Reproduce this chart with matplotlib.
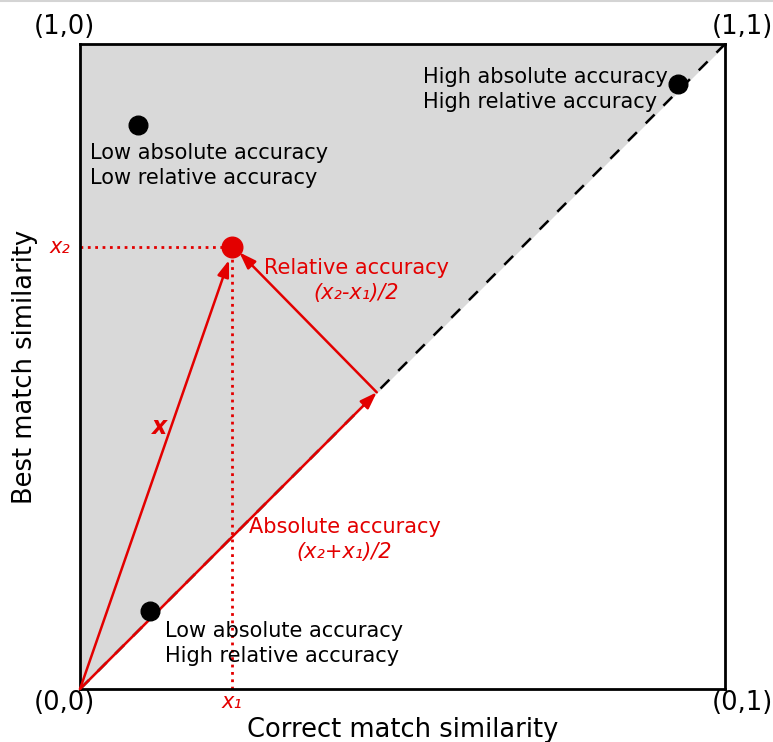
import matplotlib.pyplot as plt
from matplotlib.lines import Line2D
import numpy as np

# example points (correct match similarity, best match similarity)
pt_x = [0.09, 0.927, 0.109]
pt_y = [0.874, 0.938, 0.121]
pt_labels = ['Low absolute accuracy\nLow relative accuracy',
             'High absolute accuracy\nHigh relative accuracy',
             'Low absolute accuracy\nHigh relative accuracy']
label_pos = [(0.016, 0.812), (0.532, 0.929), (0.132, 0.071)]

x1, x2 = 0.235, 0.685
corner_labels = ['(0,0)', '(1,0)', '(1,1)', '(0,1)']
corner_xy = [(-0.025, -0.022), (-0.025, 1.027), (1.027, 1.027), (1.027, -0.022)]

red = '#e30000'
fig = plt.figure(figsize=(7.73, 7.42), dpi=100)
ax = fig.add_axes([0.1035, 0.0714, 0.8345, 0.8693])
ax.set_xlim(0, 1)
ax.set_ylim(0, 1)

# thin rule along the top edge of the image
fig.add_artist(Line2D([0, 1], [0.999, 0.999], color='#d4d4d4', lw=1.5))

ax.fill([0, 0, 1], [0, 1, 1], color='#d9d9d9', zorder=0)
ax.plot([0, 1], [0, 1], ls=(0, (5, 5)), color='black', lw=1.8, zorder=1)

mid = (x1 + x2) / 2
ax.plot([0, x1], [x2, x2], ls=':', color=red, lw=2, zorder=2)
ax.plot([x1, x1], [0, x2], ls=':', color=red, lw=2, zorder=2)

aprops = dict(arrowstyle='-|>,head_length=1.0,head_width=0.35', color=red, lw=1.8,
              shrinkA=0, shrinkB=0)
ax.annotate('', xy=(x1 - 0.004, x2 - 0.02), xytext=(0, 0), arrowprops=aprops, zorder=3)
ax.annotate('', xy=(mid, mid), xytext=(0, 0), arrowprops=aprops, zorder=3)
ax.annotate('', xy=(x1 + 0.012, x2 - 0.008), xytext=(mid, mid), arrowprops=aprops, zorder=3)

ax.scatter([x1], [x2], s=220, color=red, zorder=4)
ax.scatter(pt_x, pt_y, s=180, color='black', zorder=4)

for lab, (lx, ly) in zip(pt_labels, label_pos):
    ax.text(lx, ly, lab, fontsize=15, ha='left', va='center', linespacing=1.33)

ax.text(0.428, 0.653, 'Relative accuracy', color=red, fontsize=15, ha='center', va='center')
ax.text(0.428, 0.614, '(x\u2082-x\u2081)/2', color=red, fontsize=15, ha='center', va='center',
        style='italic')
ax.text(0.41, 0.251, 'Absolute accuracy', color=red, fontsize=15, ha='center', va='center')
ax.text(0.41, 0.212, '(x\u2082+x\u2081)/2', color=red, fontsize=15, ha='center', va='center',
        style='italic')
ax.text(0.124, 0.406, 'x', color=red, fontsize=17, ha='center', va='center',
        style='italic', weight='bold')
ax.text(-0.015, x2, 'x\u2082', color=red, fontsize=15, ha='right', va='center',
        style='italic', clip_on=False)
ax.text(x1, -0.02, 'x\u2081', color=red, fontsize=15, ha='center', va='center',
        style='italic', clip_on=False)

for lab, (cx, cy) in zip(corner_labels, corner_xy):
    ax.text(cx, cy, lab, fontsize=18.5, ha='center', va='center', clip_on=False)

for s in ax.spines.values():
    s.set_linewidth(2)
ax.set_xticks([])
ax.set_yticks([])
ax.set_xlabel('Correct match similarity', fontsize=18.5, labelpad=20)
ax.set_ylabel('Best match similarity', fontsize=18.5, labelpad=30)

fig.savefig('out.png', dpi=100)
